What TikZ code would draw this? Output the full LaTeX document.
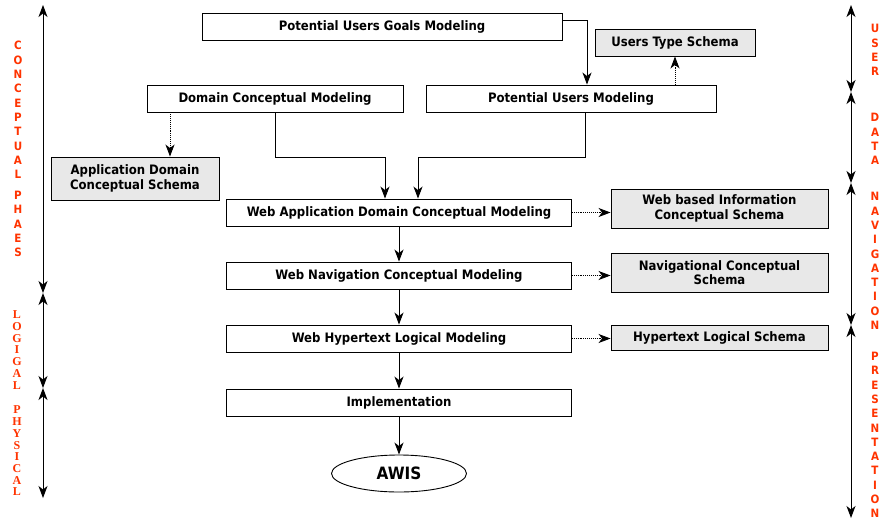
\documentclass[tikz,border=0pt]{standalone}
\usepackage{fontspec}
\setmainfont{DejaVu Sans Condensed}
\newfontfamily\phaseserif{Liberation Serif}
\usetikzlibrary{arrows.meta,shapes.geometric}
\definecolor{phasered}{RGB}{255,51,0}
\definecolor{schemagray}{RGB}{232,232,232}

\begin{document}
\begin{tikzpicture}[x=1pt, y=-1pt,
  box/.style={rectangle, draw, fill=white, line width=0.9pt, inner sep=0pt,
              minimum height=27pt, align=center,
              font=\fontsize{13}{14.5}\selectfont\bfseries},
  schema/.style={box, fill=schemagray},
  arrow/.style={-{Stealth[length=12pt,width=9pt,inset=3.5pt]}, line width=0.9pt},
  dotarrow/.style={arrow, densely dotted},
  phase/.style={{Stealth[length=12pt,width=9pt,inset=3.5pt]}-{Stealth[length=12pt,width=9pt,inset=3.5pt]}, line width=1pt},
  phasetext/.style={text=phasered, align=center, inner sep=0pt,
                    font=\fontsize{11.5}{14.3}\selectfont\bfseries},
  phaseserif/.style={text=phasered, align=center, inner sep=0pt,
                     font=\fontsize{12}{11.7}\selectfont\phaseserif\bfseries}
]
\useasboundingbox (0,0) rectangle (881,520);

% modeling steps
\node[box, minimum width=360pt] (goals) at (382,26.5) {Potential Users Goals Modeling};
\node[schema, minimum width=160pt] (usertype) at (675,42.5) {Users Type Schema};
\node[box, minimum width=256pt] (domain) at (275,98.5) {Domain Conceptual Modeling};
\node[box, minimum width=290pt] (users) at (571,98.5) {Potential Users Modeling};
\node[schema, minimum width=168pt, minimum height=43pt] (appschema) at (135,178.5) {Application Domain\\Conceptual Schema};
\node[box, minimum width=345pt] (webapp) at (399,212.5) {Web Application Domain Conceptual Modeling};
\node[schema, minimum width=217pt, minimum height=39pt] (infoschema) at (719.5,208.5) {Web based Information\\Conceptual Schema};
\node[box, minimum width=345pt] (webnav) at (399,275.5) {Web Navigation Conceptual Modeling};
\node[schema, minimum width=217pt, minimum height=39pt] (navschema) at (719.5,272.5) {Navigational Conceptual\\Schema};
\node[box, minimum width=345pt] (hyper) at (399,338.5) {Web Hypertext Logical Modeling};
\node[schema, minimum width=217pt, minimum height=25pt] (hyperschema) at (719.5,337.5) {Hypertext Logical Schema};
\node[box, minimum width=345pt] (impl) at (399,402.5) {Implementation};
\node[ellipse, draw, fill=white, line width=0.9pt, minimum width=135pt, minimum height=37pt,
      font=\fontsize{17}{19}\selectfont\bfseries] (awis) at (399,473.5) {AWIS};

\draw[arrow] ([yshift=6pt]goals.east) -| ([xshift=16pt]users.north);
\draw[dotarrow] (usertype.south |- users.north) -- (usertype.south);
\coordinate (dtop) at ([xshift=-105pt]domain.south);
\draw[dotarrow] (dtop) -- (dtop |- appschema.north);
\draw[arrow] (domain.south) -- ++(0,45) -| ([xshift=-14pt]webapp.north);
\draw[arrow] ([xshift=14pt]users.south) -- ++(0,45) -| ([xshift=19pt]webapp.north);
\draw[arrow] (webapp) -- (webnav);
\draw[arrow] (webnav) -- (hyper);
\draw[arrow] (hyper) -- (impl);
\draw[arrow] (impl) -- (awis);
\draw[dotarrow] (webapp.east) -- (webapp.east -| infoschema.west);
\draw[dotarrow] (webnav.east) -- (webnav.east -| navschema.west);
\draw[dotarrow] (hyper.east) -- (hyper.east -| hyperschema.west);

% phases on the left
\coordinate (l0) at (43,5);
\coordinate (l1) at (43,293);
\coordinate (l2) at (43,388);
\coordinate (l3) at (43,498);
\draw[phase] (l0) -- (l1);
\draw[phase] (l1) -- (l2);
\draw[phase] (l2) -- (l3);
\node[phasetext] (concept) at (18,110) {C\\O\\N\\C\\E\\P\\T\\U\\A\\L};
\node[phasetext] (phaes) at (18,224) {P\\H\\A\\E\\S};
\node[phaseserif] (logical) at (17,350) {L\\O\\G\\I\\G\\A\\L};
\node[phaseserif] (physical) at (17,451) {P\\H\\Y\\S\\I\\C\\A\\L};

% layers on the right
\coordinate (r0) at (851,5);
\coordinate (r1) at (851,92);
\coordinate (r2) at (851,183);
\coordinate (r3) at (851,325);
\coordinate (r4) at (851,518);
\draw[phase] (r0) -- (r1);
\draw[phase] (r1) -- (r2);
\draw[phase] (r2) -- (r3);
\draw[phase] (r3) -- (r4);
\node[phasetext] (user) at (875,50) {U\\S\\E\\R};
\node[phasetext] (data) at (875,139) {D\\A\\T\\A};
\node[phasetext] (nav) at (875,261) {N\\A\\V\\I\\G\\A\\T\\I\\O\\N};
\node[phasetext] (pres) at (875,435) {P\\R\\E\\S\\E\\N\\T\\A\\T\\I\\O\\N};
\end{tikzpicture}
\end{document}
